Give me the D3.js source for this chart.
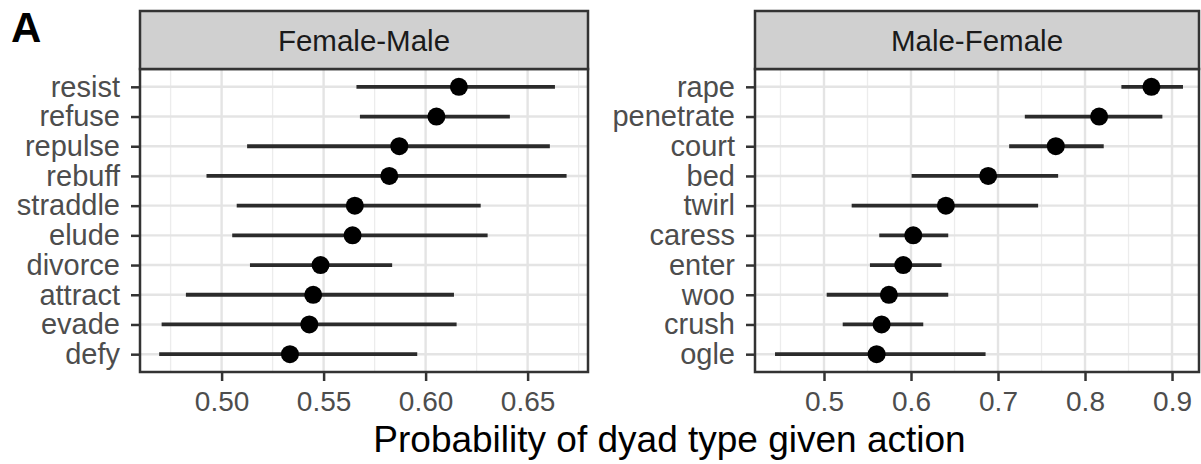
<!DOCTYPE html>
<html>
<head>
<meta charset="utf-8">
<script src="https://cdn.jsdelivr.net/npm/d3@7"></script>
<style>
  html, body { margin: 0; padding: 0; background: #fff; }
  svg { display: block; font-family: "Liberation Sans", Arial, Helvetica, sans-serif; }
</style>
</head>
<body>
<svg id="chart" width="1201" height="464"></svg>
<script>
// ---- Data ----
const fmCategories = ["resist","refuse","repulse","rebuff","straddle","elude","divorce","attract","evade","defy"];
const fmEstimate   = [0.6163, 0.6053, 0.5871, 0.5822, 0.5653, 0.5642, 0.5485, 0.5449, 0.5430, 0.5335];
const fmLower      = [0.5661, 0.5678, 0.5125, 0.4926, 0.5074, 0.5052, 0.5139, 0.4825, 0.4706, 0.4694];
const fmUpper      = [0.6634, 0.6413, 0.6609, 0.6691, 0.6270, 0.6304, 0.5836, 0.6139, 0.6152, 0.5959];
const fmTicks      = [0.50, 0.55, 0.60, 0.65];
const fmTickLabels = ["0.50", "0.55", "0.60", "0.65"];
const fmMinor      = [0.475, 0.525, 0.575, 0.625, 0.675];

const mfCategories = ["rape","penetrate","court","bed","twirl","caress","enter","woo","crush","ogle"];
const mfEstimate   = [0.8763, 0.8162, 0.7664, 0.6887, 0.6401, 0.6026, 0.5911, 0.5746, 0.5662, 0.5605];
const mfLower      = [0.8418, 0.7308, 0.7128, 0.6007, 0.5318, 0.5635, 0.5528, 0.5031, 0.5215, 0.4437];
const mfUpper      = [0.9126, 0.8889, 0.8215, 0.7691, 0.7461, 0.6428, 0.6351, 0.6428, 0.6141, 0.6857];
const mfTicks      = [0.5, 0.6, 0.7, 0.8, 0.9];
const mfTickLabels = ["0.5", "0.6", "0.7", "0.8", "0.9"];
const mfMinor      = [0.45, 0.55, 0.65, 0.75, 0.85];

const panelTitles = ["Female-Male", "Male-Female"];
const xTitle = "Probability of dyad type given action";
const tagLabel = "A";

// ---- Layout ----
const svg = d3.select("#chart");
const stripTop = 11, stripBottom = 69, panelBottom = 372;

const panels = [
  { title: panelTitles[0], cats: fmCategories, est: fmEstimate, lo: fmLower, hi: fmUpper,
    ticks: fmTicks, labels: fmTickLabels, minor: fmMinor,
    x0: 140, x1: 588, domain: [0.46, 0.6796] },
  { title: panelTitles[1], cats: mfCategories, est: mfEstimate, lo: mfLower, hi: mfUpper,
    ticks: mfTicks, labels: mfTickLabels, minor: mfMinor,
    x0: 755, x1: 1199, domain: [0.4207, 0.931] }
];

panels.forEach(p => {
  const x = d3.scaleLinear().domain(p.domain).range([p.x0, p.x1]);
  const y = d3.scalePoint().domain(p.cats).range([stripBottom, panelBottom]).padding(0.6);
  const g = svg.append("g");

  g.append("rect").attr("x", p.x0).attr("y", stripBottom)
    .attr("width", p.x1 - p.x0).attr("height", panelBottom - stripBottom).attr("fill", "#fff");

  g.selectAll(".minor").data(p.minor).enter().append("line")
    .attr("x1", d => x(d)).attr("x2", d => x(d))
    .attr("y1", stripBottom).attr("y2", panelBottom)
    .attr("stroke", "#ececec").attr("stroke-width", 1.3);
  g.selectAll(".majorv").data(p.ticks).enter().append("line")
    .attr("x1", d => x(d)).attr("x2", d => x(d))
    .attr("y1", stripBottom).attr("y2", panelBottom)
    .attr("stroke", "#e4e4e4").attr("stroke-width", 2.4);
  g.selectAll(".majorh").data(p.cats).enter().append("line")
    .attr("x1", p.x0).attr("x2", p.x1)
    .attr("y1", d => y(d)).attr("y2", d => y(d))
    .attr("stroke", "#e4e4e4").attr("stroke-width", 2.4);

  g.selectAll(".bar").data(p.cats).enter().append("line")
    .attr("x1", (d, i) => x(p.lo[i])).attr("x2", (d, i) => x(p.hi[i]))
    .attr("y1", d => y(d)).attr("y2", d => y(d))
    .attr("stroke", "#2b2b2b").attr("stroke-width", 3.8);
  g.selectAll(".pt").data(p.cats).enter().append("circle")
    .attr("cx", (d, i) => x(p.est[i])).attr("cy", d => y(d))
    .attr("r", 9).attr("fill", "#000");

  g.append("rect").attr("x", p.x0).attr("y", stripBottom)
    .attr("width", p.x1 - p.x0).attr("height", panelBottom - stripBottom)
    .attr("fill", "none").attr("stroke", "#333").attr("stroke-width", 2.5);

  g.append("rect").attr("x", p.x0).attr("y", stripTop)
    .attr("width", p.x1 - p.x0).attr("height", stripBottom - stripTop)
    .attr("fill", "#d0d0d0").attr("stroke", "#333").attr("stroke-width", 2.5);
  g.append("text").attr("x", (p.x0 + p.x1) / 2).attr("y", (stripTop + stripBottom) / 2)
    .attr("text-anchor", "middle").attr("dy", "0.36em")
    .attr("font-size", 29.5).attr("fill", "#1a1a1a").text(p.title);

  const xa = g.append("g").attr("transform", `translate(0,${panelBottom})`)
    .call(d3.axisBottom(x).tickValues(p.ticks).tickFormat((d, i) => p.labels[i])
      .tickSize(9).tickPadding(10));
  xa.select(".domain").remove();
  xa.selectAll(".tick line").attr("stroke", "#333").attr("stroke-width", 2.5);
  xa.selectAll(".tick text").attr("font-size", 28).attr("fill", "#4d4d4d")
    .attr("font-family", "Liberation Sans, Arial, sans-serif");

  const ya = g.append("g").attr("transform", `translate(${p.x0},0)`)
    .call(d3.axisLeft(y).tickSize(9).tickPadding(11));
  ya.select(".domain").remove();
  ya.selectAll(".tick line").attr("stroke", "#333").attr("stroke-width", 2.5);
  ya.selectAll(".tick text").attr("font-size", 29).attr("fill", "#4d4d4d")
    .attr("font-family", "Liberation Sans, Arial, sans-serif");
});

svg.append("text").attr("x", (140 + 1199) / 2).attr("y", 452)
  .attr("text-anchor", "middle").attr("font-size", 37).attr("fill", "#000").text(xTitle);

svg.append("text").attr("x", 11).attr("y", 42)
  .attr("font-size", 42).attr("font-weight", "bold").attr("fill", "#000").text(tagLabel);
</script>
</body>
</html>
